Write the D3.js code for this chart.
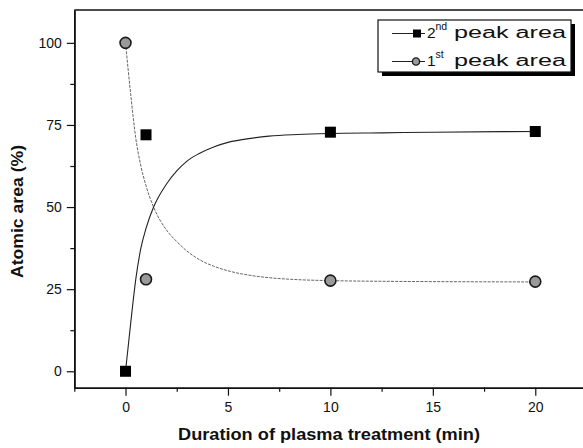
<!DOCTYPE html>
<html lang="en">
  <head>
    <meta charset="UTF-8" />
    <title>Atomic area vs plasma treatment</title>
    <script src="https://cdn.jsdelivr.net/npm/d3@7/dist/d3.min.js"></script>
    <style>
      body { margin: 0; background: #fff; }
      text { font-family: "Liberation Sans", Arial, sans-serif; fill: #111; }
    </style>
  </head>
  <body>
    <script>
      // measured points
      const times = [0, 1, 10, 20];
      const peak2nd = [0, 72, 72.8, 73];
      const peak1st = [100, 28, 27.6, 27.3];

      // fitted curves
      const fitTimes = [0, 0.25, 0.5, 0.75, 1, 1.37, 2, 2.5, 3, 3.6, 4.3, 5, 6.2, 7, 8.4, 10, 12.5, 15, 20];
      const fit2nd = [0, 14.5, 28, 37.5, 43.5, 50, 57, 61, 64, 66.3, 68.3, 69.7, 71, 71.6, 72.1, 72.4, 72.6, 72.8, 73];
      const fit1st = [100, 84.5, 71, 62.5, 56.5, 50, 43, 39.5, 36.6, 34, 32, 30.6, 29.1, 28.5, 27.9, 27.6, 27.4, 27.3, 27.2];

      const xMajor = [0, 5, 10, 15, 20];
      const xMinor = [-2.5, 2.5, 7.5, 12.5, 17.5, 22.5];
      const yMajor = [0, 25, 50, 75, 100];
      const yMinor = [12.5, 37.5, 62.5, 87.5];

      const width = 583;
      const height = 448;
      const svg = d3
        .select("body")
        .append("svg")
        .attr("width", width)
        .attr("height", height);

      const x = d3.scaleLinear().domain([-2.5, 22.5]).range([74.3, 586.5]);
      const y = d3.scaleLinear().domain([-5, 110]).range([387.7, 10]);

      // axes
      const xAxis = svg.append("g").attr("transform", `translate(0,${y(-5)})`);
      xAxis.call(d3.axisBottom(x).tickValues(xMajor).tickSize(8).tickPadding(6).tickSizeOuter(0));
      const xAxisMinor = svg.append("g").attr("transform", `translate(0,${y(-5)})`);
      xAxisMinor.call(d3.axisBottom(x).tickValues(xMinor).tickSize(4).tickFormat("").tickSizeOuter(0));

      const yAxis = svg.append("g").attr("transform", `translate(${x(-2.5)},0)`);
      yAxis.call(d3.axisLeft(y).tickValues(yMajor).tickSize(7.5).tickPadding(5).tickSizeOuter(0));
      const yAxisMinor = svg.append("g").attr("transform", `translate(${x(-2.5)},0)`);
      yAxisMinor.call(d3.axisLeft(y).tickValues(yMinor).tickSize(4).tickFormat("").tickSizeOuter(0));

      svg.selectAll(".domain").attr("stroke", "#111").attr("stroke-width", 1.6);
      svg.selectAll(".tick line").attr("stroke", "#111").attr("stroke-width", 1.2);
      svg
        .selectAll(".tick text")
        .attr("font-family", "Liberation Sans, Arial, sans-serif")
        .attr("font-size", 14)
        .attr("fill", "#111");

      // top frame
      svg
        .append("line")
        .attr("x1", x(-2.5))
        .attr("x2", x(22.5))
        .attr("y1", y(110))
        .attr("y2", y(110))
        .attr("stroke", "#111")
        .attr("stroke-width", 1.6);

      // fit curves
      const line = d3
        .line()
        .x((d, i) => x(fitTimes[i]))
        .y((d) => y(d))
        .curve(d3.curveMonotoneX);

      svg
        .append("path")
        .datum(fit1st)
        .attr("fill", "none")
        .attr("stroke", "#666")
        .attr("stroke-width", 1)
        .attr("stroke-dasharray", "3,1.2")
        .attr("d", line);

      svg
        .append("path")
        .datum(fit2nd)
        .attr("fill", "none")
        .attr("stroke", "#222")
        .attr("stroke-width", 1.1)
        .attr("d", line);

      // markers
      svg
        .selectAll(".sq")
        .data(peak2nd)
        .enter()
        .append("rect")
        .attr("x", (d, i) => x(times[i]) - 5.5)
        .attr("y", (d) => y(d) - 5.5)
        .attr("width", 11)
        .attr("height", 11)
        .attr("fill", "#000");

      svg
        .selectAll(".ci")
        .data(peak1st)
        .enter()
        .append("circle")
        .attr("cx", (d, i) => x(times[i]))
        .attr("cy", (d) => y(d))
        .attr("r", 5.5)
        .attr("fill", "#9a9a9a")
        .attr("stroke", "#1a1a1a")
        .attr("stroke-width", 1.6);

      // axis titles
      svg
        .append("text")
        .attr("x", 329)
        .attr("y", 440)
        .attr("text-anchor", "middle")
        .attr("font-size", 16)
        .attr("font-weight", "bold")
        .attr("textLength", 302)
        .attr("lengthAdjust", "spacingAndGlyphs")
        .text("Duration of plasma treatment (min)");

      svg
        .append("text")
        .attr("transform", "translate(23,211.5) rotate(-90)")
        .attr("text-anchor", "middle")
        .attr("font-size", 16)
        .attr("font-weight", "bold")
        .attr("textLength", 133)
        .attr("lengthAdjust", "spacingAndGlyphs")
        .text("Atomic area (%)");

      // legend
      const lg = svg.append("g");
      lg.append("rect")
        .attr("x", 382)
        .attr("y", 24)
        .attr("width", 193)
        .attr("height", 52)
        .attr("fill", "#000");
      lg.append("rect")
        .attr("x", 378)
        .attr("y", 20)
        .attr("width", 193)
        .attr("height", 52)
        .attr("fill", "#fff")
        .attr("stroke", "#111")
        .attr("stroke-width", 1.2);

      const rows = [
        { num: "2", sup: "nd", yy: 33.5, shape: "sq" },
        { num: "1", sup: "st", yy: 61.5, shape: "ci" },
      ];
      rows.forEach((r) => {
        lg.append("line")
          .attr("x1", 392)
          .attr("x2", 425)
          .attr("y1", r.yy)
          .attr("y2", r.yy)
          .attr("stroke", "#222")
          .attr("stroke-width", 1.1);
        if (r.shape === "sq") {
          lg.append("rect")
            .attr("x", 413)
            .attr("y", r.yy - 4)
            .attr("width", 8)
            .attr("height", 8)
            .attr("fill", "#000");
        } else {
          lg.append("circle")
            .attr("cx", 416)
            .attr("cy", r.yy)
            .attr("r", 3.6)
            .attr("fill", "#9a9a9a")
            .attr("stroke", "#1a1a1a")
            .attr("stroke-width", 1.4);
        }
        lg.append("text")
          .attr("x", 427)
          .attr("y", r.yy + 4.5)
          .attr("font-size", 15.5)
          .text(r.num);
        lg.append("text")
          .attr("x", 435.5)
          .attr("y", r.yy - 3.5)
          .attr("font-size", 10.5)
          .text(r.sup);
        lg.append("text")
          .attr("x", 454)
          .attr("y", r.yy + 4.5)
          .attr("font-size", 16)
          .attr("textLength", 112)
          .attr("lengthAdjust", "spacingAndGlyphs")
          .text("peak area");
      });
    </script>
  </body>
</html>
